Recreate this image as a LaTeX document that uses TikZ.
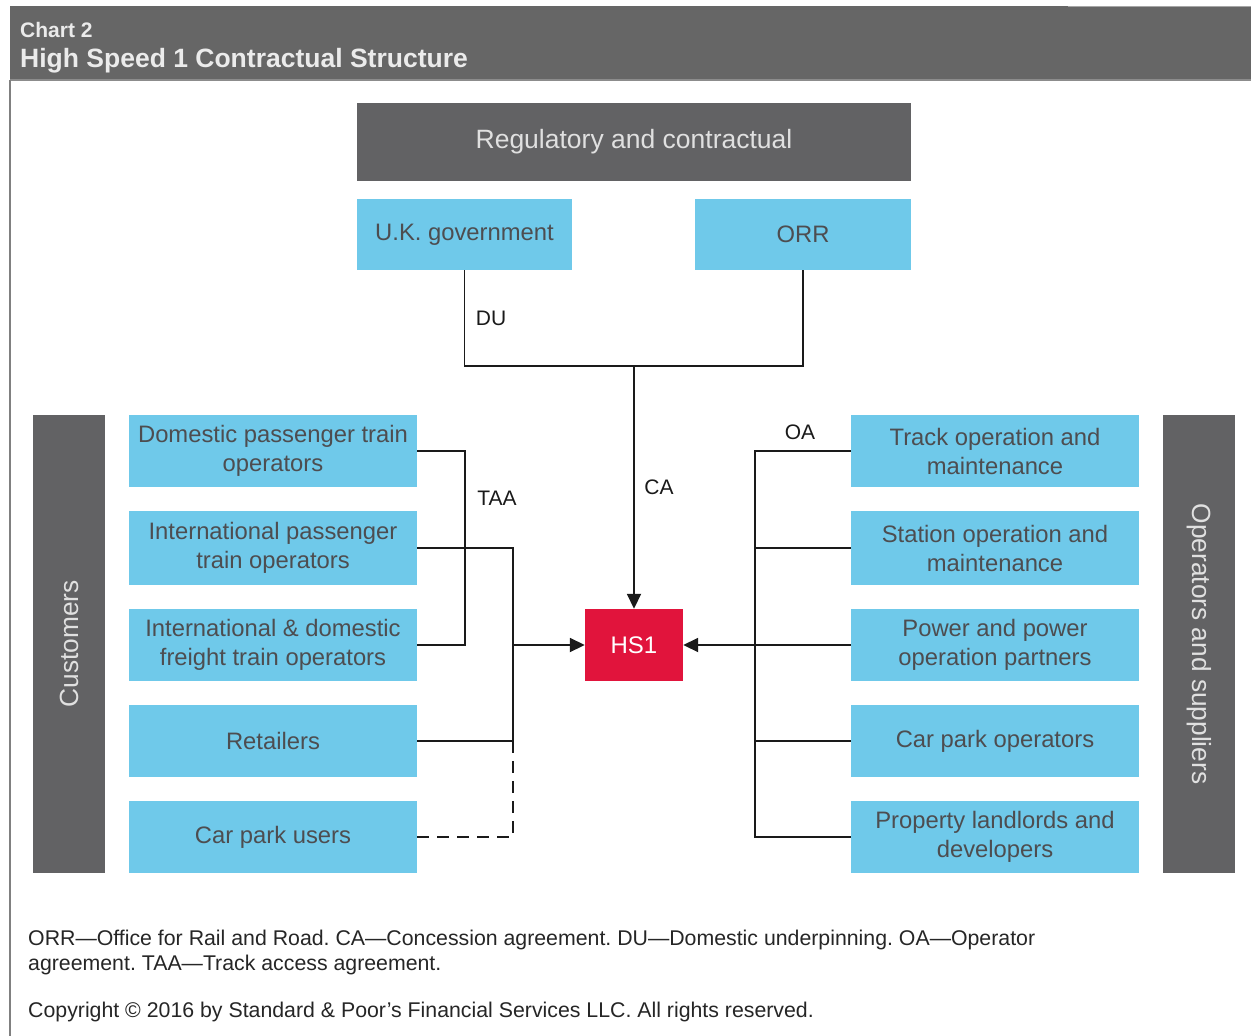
\documentclass[tikz,border=0pt]{standalone}
\usepackage{fontspec}
\setmainfont{Liberation Sans}
\usetikzlibrary{arrows.meta}
\definecolor{hdr}{HTML}{666666}
\definecolor{band}{HTML}{626264}
\definecolor{bluebox}{HTML}{6FC9EA}
\definecolor{hsred}{HTML}{E1143C}
\definecolor{boxtxt}{HTML}{4D4D50}
\definecolor{linec}{HTML}{1A1A1A}
\begin{document}
\frenchspacing
\begin{tikzpicture}[x=1pt,y=-1pt,
  bbox/.style={fill=bluebox, draw=none, text=boxtxt, font=\fontsize{23.8}{29}\selectfont, align=center, inner sep=0pt, minimum width=288, minimum height=72},
  gbox/.style={fill=band, draw=none, text=white!88!black, inner sep=0pt},
  conn/.style={draw=linec, line width=1.8pt},
  arr/.style={conn, -{Triangle[length=15pt,width=14pt]}},
  lbl/.style={text=linec, font=\fontsize{21}{25}\selectfont, inner sep=0pt},
  note/.style={text=black!85, font=\fontsize{21.3}{26}\selectfont\frenchspacing, inner sep=0pt, anchor=base west}
]
\useasboundingbox (0,0) rectangle (1251,1036);
\fill[white] (0,0) rectangle (1251,1036);
% header
\fill[hdr] (10,6) rectangle (1251,80);
\draw[black!45, line width=1.5pt] (10,80) -- (1251,80);
\draw[black!35, line width=1.5pt] (1068,6.5) -- (1251,6.5);
\draw[black!50, line width=2pt] (10,80) -- (10,1036);
\node[text=white!92!black, font=\bfseries\fontsize{21}{25}\selectfont, anchor=base west, inner sep=0pt] (chart) at (20,37) {Chart 2};
\node[text=white!92!black, font=\bfseries\fontsize{26.5}{30}\selectfont, anchor=base west, inner sep=0pt] (title) at (20,67) {High Speed 1 Contractual Structure};
% top boxes
\node[gbox, minimum width=554, minimum height=78, font=\fontsize{26.5}{31}\selectfont] (reg) at (634,142) {Regulatory and contractual};
\node[bbox, minimum width=215, minimum height=71] (uk) at (464.5,234.5) {U.K. government};
\node[bbox, minimum width=216, minimum height=71] (orr) at (803,234.5) {ORR};
% side bands
\node[gbox, minimum width=72, minimum height=458] (cust) at (69,644) {};
\node[text=white!88!black, font=\fontsize{26.3}{30}\selectfont, rotate=90, inner sep=0pt] (custt) at (cust.center) {Customers};
\node[gbox, minimum width=72, minimum height=458] (ops) at (1199,644) {};
\node[text=white!88!black, font=\fontsize{26.3}{30}\selectfont, rotate=-90, inner sep=0pt] (opst) at (ops.center) {Operators and suppliers};
% left boxes
\node[bbox] (l1) at (273,451) {Domestic passenger train\\operators};
\node[bbox, minimum height=74] (l2) at (273,548) {International passenger\\train operators};
\node[bbox] (l3) at (273,645) {International \& domestic\\freight train operators};
\node[bbox] (l4) at (273,741) {Retailers};
\node[bbox] (l5) at (273,837) {Car park users};
% right boxes
\node[bbox] (r1) at (995,451) {Track operation and\\maintenance};
\node[bbox, minimum height=74] (r2) at (995,548) {Station operation and\\maintenance};
\node[bbox] (r3) at (995,645) {Power and power\\operation partners};
\node[bbox] (r4) at (995,741) {Car park operators};
\node[bbox] (r5) at (995,837) {Property landlords and\\developers};
% HS1
\node[fill=hsred, text=white, font=\fontsize{24}{29}\selectfont, minimum width=98, minimum height=72, inner sep=0pt] (hs) at (634,645) {HS1};
% connectors top
\coordinate (junc) at (634,366);
\draw[conn] (uk.south) |- (junc) -| (orr.south);
\draw[arr] (junc) -- (hs.north);
% left connectors
\coordinate (jb) at (513,645);
\draw[conn] (l1.east) -- ++(48,0) |- (l3.east);
\draw[conn] (l2.east) -| (jb) |- (l4.east);
\draw[arr] (jb) -- (hs.west);
\draw[conn, line width=1.6pt, dash pattern=on 12pt off 8pt] (l5.east) -| ([yshift=8pt]l4.east -| jb);
% right connectors
\coordinate (jr) at (755,645);
\draw[conn] (r1.west) -- (r1.west -| jr) -- (r5.west -| jr) -- (r5.west);
\draw[conn] (r2.west) -- (r2.west -| jr);
\draw[conn] (r4.west) -- (r4.west -| jr);
\draw[conn] (r3.west) -- (jr);
\draw[arr] (jr) -- (hs.east);
% labels
\node[lbl] (du) at (491,318) {DU};
\node[lbl] (ca) at (659,487) {CA};
\node[lbl] (taa) at (497,498) {TAA};
\node[lbl] (oa) at (800,432) {OA};
% notes
\node[note] (n1) at (28,945) {ORR—Office for Rail and Road. CA—Concession agreement. DU—Domestic underpinning. OA—Operator};
\node[note] (n2) at (28,970) {agreement. TAA—Track access agreement.};
\node[note] (n3) at (28,1017) {Copyright © 2016 by Standard \& Poor’s Financial Services LLC. All rights reserved.};
\end{tikzpicture}
\end{document}
